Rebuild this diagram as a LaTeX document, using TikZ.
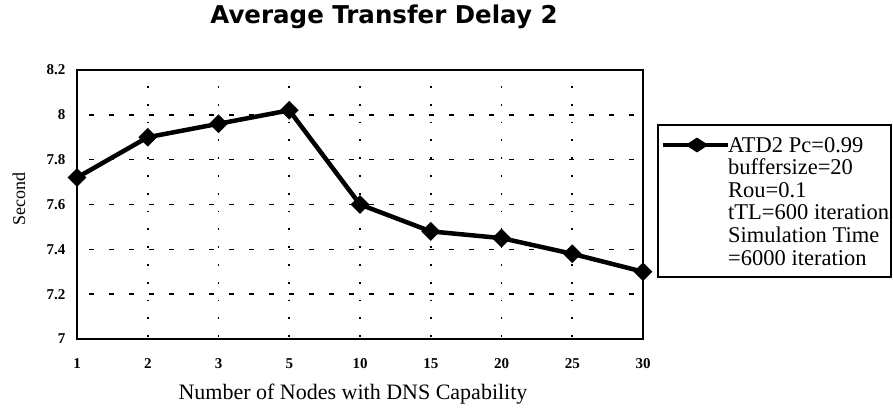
\documentclass[tikz,border=0pt]{standalone}
\usepackage{fontspec}
\usetikzlibrary{shapes.geometric}
\setmainfont{Liberation Serif}
\newfontfamily\titlefont{DejaVu Sans}
\begin{document}
\begin{tikzpicture}[x=1pt,y=-1pt,
  frameline/.style={line width=2.4pt},
  gridh/.style={line width=1.4pt,dash pattern=on 5pt off 15pt},
  gridv/.style={line width=1.6pt,dash pattern=on 1.8pt off 16pt},
  series/.style={line width=4.5pt,line join=round},
  dmark/.style={diamond,fill=black,inner sep=0pt,minimum width=19pt,minimum height=19pt},
  lmark/.style={diamond,fill=black,inner sep=0pt,minimum width=23pt,minimum height=15pt},
  ytick/.style={anchor=east,font=\fontsize{15}{15}\selectfont\bfseries},
  xtick/.style={anchor=center,font=\fontsize{15}{15}\selectfont\bfseries},
  legendtext/.style={anchor=north west,align=left,inner sep=0pt,font=\fontsize{22.5}{22.6}\selectfont}
]
\useasboundingbox (0,0) rectangle (893,415);
% axes box corners
\def\xa{77}\def\xb{643}\def\ya{70}\def\yb{339}
% horizontal dashed grid lines
\foreach \v in {7.2,7.4,7.6,7.8,8.0}{
  \draw[gridh] (\xa+12,{\yb-(\v-7)*224.2}) -- (\xb-4,{\yb-(\v-7)*224.2});
}
% vertical dotted grid lines
\foreach \i in {1,...,7}{
  \draw[gridv] ({\xa+\i*70.75},\ya+16) -- ({\xa+\i*70.75},\yb);
}
% frame
\draw[frameline] (\xa,\ya) rectangle (\xb,\yb);
% y tick labels
\foreach \v/\t in {7/7,7.2/7.2,7.4/7.4,7.6/7.6,7.8/7.8,8.0/8,8.2/8.2}{
  \node[ytick] at (69,{\yb-(\v-7)*224.2}) {\t};
}
% x tick labels
\foreach \t [count=\i from 0] in {1,2,3,5,10,15,20,25,30}{
  \node[xtick] at ({\xa+\i*70.75},364) {\t};
}
% data series
\coordinate (p0) at ({\xa+0*70.75},{\yb-(7.72-7)*224.2});
\coordinate (p1) at ({\xa+1*70.75},{\yb-(7.90-7)*224.2});
\coordinate (p2) at ({\xa+2*70.75},{\yb-(7.96-7)*224.2});
\coordinate (p3) at ({\xa+3*70.75},{\yb-(8.02-7)*224.2});
\coordinate (p4) at ({\xa+4*70.75},{\yb-(7.60-7)*224.2});
\coordinate (p5) at ({\xa+5*70.75},{\yb-(7.48-7)*224.2});
\coordinate (p6) at ({\xa+6*70.75},{\yb-(7.45-7)*224.2});
\coordinate (p7) at ({\xa+7*70.75},{\yb-(7.38-7)*224.2});
\coordinate (p8) at ({\xa+8*70.75},{\yb-(7.30-7)*224.2});
\draw[series] (p0)--(p1)--(p2)--(p3)--(p4)--(p5)--(p6)--(p7)--(p8);
\foreach \k in {0,...,8}{ \node[dmark] (m\k) at (p\k) {}; }
% axis titles
\node[rotate=90,font=\fontsize{18}{18}\selectfont] (ylab) at (19,199) {Second};
\node[font=\fontsize{22}{22}\selectfont] (xlab) at (353,394) {Number of Nodes with DNS Capability};
\node[font=\titlefont\fontsize{24.5}{24.5}\selectfont\bfseries] (title) at (384,17) {Average Transfer Delay 2};
% legend
\draw[line width=1.4pt] (658,125) rectangle (891,277);
\coordinate (la) at (663,145);
\coordinate (lb) at (728,145);
\draw[series] (la) -- (lb);
\node[lmark] (lm) at (697,145) {};
\node[legendtext] (ltext) at (728,137) {ATD2 Pc=0.99\\buffersize=20\\Rou=0.1\\tTL=600 iteration\\Simulation Time\\=6000 iteration};
\end{tikzpicture}
\end{document}
